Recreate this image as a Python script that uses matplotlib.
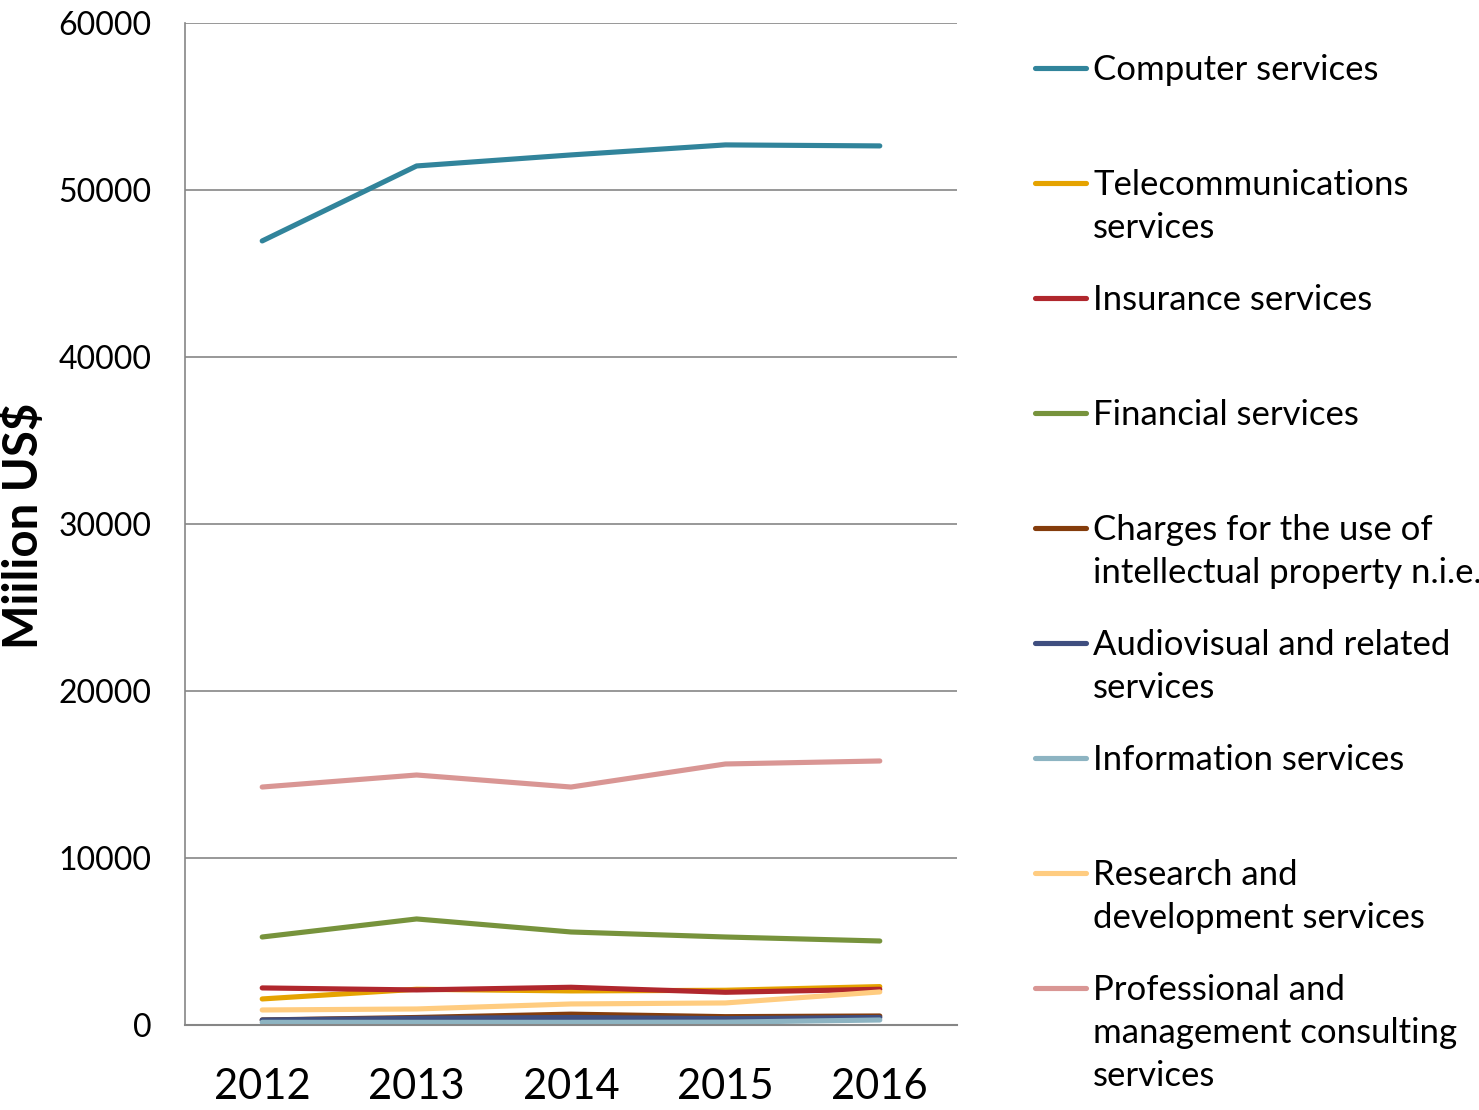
import matplotlib
matplotlib.use("Agg")
import matplotlib.pyplot as plt
from matplotlib.lines import Line2D

plt.rcParams['font.family'] = ['Lato', 'DejaVu Sans']

years = ['2012', '2013', '2014', '2015', '2016']
series_names = [
    'Computer services',
    'Telecommunications\nservices',
    'Insurance services',
    'Financial services',
    'Charges for the use of\nintellectual property n.i.e.',
    'Audiovisual and related\nservices',
    'Information services',
    'Research and\ndevelopment services',
    'Professional and\nmanagement consulting\nservices',
]
computer = [46950, 51440, 52100, 52700, 52640]
telecom = [1560, 2140, 2040, 2080, 2300]
insurance = [2220, 2100, 2260, 1960, 2140]
financial = [5270, 6350, 5570, 5270, 5030]
charges_ip = [300, 450, 650, 500, 540]
audiovisual = [300, 400, 450, 380, 450]
information = [160, 160, 160, 170, 300]
rnd = [900, 960, 1260, 1320, 1980]
professional = [14250, 14970, 14250, 15630, 15810]

values = [computer, telecom, insurance, financial, charges_ip,
          audiovisual, information, rnd, professional]
colors = ['#31849B', '#E5A300', '#B0272D', '#77933C', '#843C0C',
          '#3F4E7F', '#8DB4C2', '#FFCC80', '#D99694']
yticks = [0, 10000, 20000, 30000, 40000, 50000, 60000]

fig = plt.figure(figsize=(14.79, 11.10), dpi=100)
ax = fig.add_axes([185/1479, 1-1025/1110, (957-185)/1479, (1025-23)/1110])

x = list(range(len(years)))
for vals, c in zip(values, colors):
    ax.plot(x, vals, color=c, lw=3.7, solid_capstyle='round', solid_joinstyle='round')

ax.set_xlim(-0.5, 4.5)
ax.set_ylim(0, 60000)
ax.set_yticks(yticks)
ax.set_yticklabels([str(v) for v in yticks], fontsize=23)
ax.set_xticks(x)
ax.set_xticklabels(years, fontsize=30)
ax.tick_params(axis='y', length=0, pad=24)
ax.tick_params(axis='x', length=0, pad=31)
ax.grid(axis='y', color='#868686', lw=1.2)
ax.set_axisbelow(True)
for s in ['top', 'right']:
    ax.spines[s].set_visible(False)
ax.spines['left'].set_color('#868686')
ax.spines['bottom'].set_color('#868686')
ax.spines['left'].set_linewidth(1.2)
ax.spines['bottom'].set_linewidth(1.5)

fig.text(24/1479, 1-526/1110, 'Miilion US$', rotation=90, fontsize=34,
         fontweight='bold', ha='center', va='center')

# legend
for i, (name, c) in enumerate(zip(series_names, colors)):
    yl = 68 + 115*i
    fig.add_artist(Line2D([1035/1479, 1086/1479], [1-yl/1110, 1-yl/1110],
                          color=c, lw=3.7, solid_capstyle='round'))
    fig.text(1093/1479, 1-(yl-14)/1110, name, fontsize=25, ha='left', va='top',
             linespacing=1.42)

fig.savefig('out.png', dpi=100)
